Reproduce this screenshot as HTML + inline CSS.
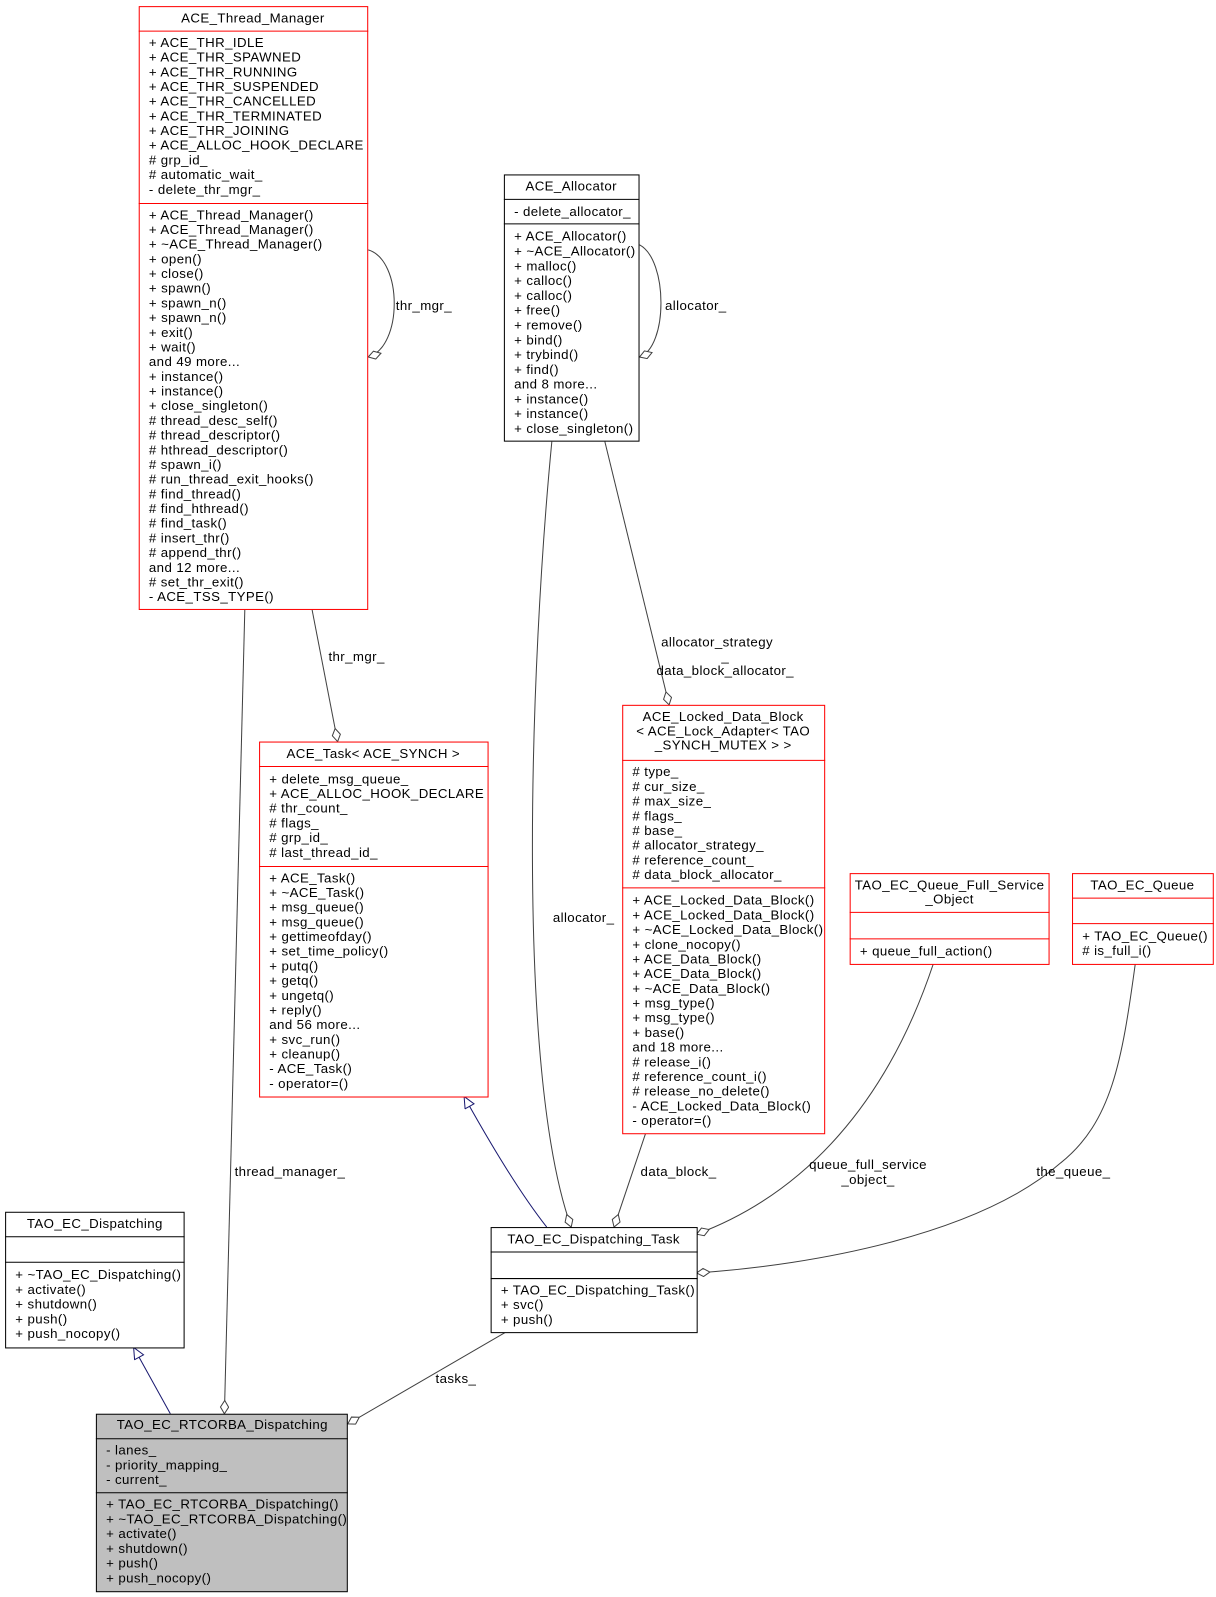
<!DOCTYPE html>
<html><head><meta charset="utf-8"><style>
html,body{margin:0;padding:0;background:#fff}
svg{display:block}
text{font-family:"Liberation Sans",Arial,sans-serif;font-size:13px;letter-spacing:0.4px;fill:#000}
</style></head><body>
<svg width="1216" height="1597" viewBox="0 0 1216 1597" xmlns="http://www.w3.org/2000/svg">
<defs>
<marker id="dia" markerUnits="userSpaceOnUse" markerWidth="16" markerHeight="10" refX="14" refY="4.5" orient="auto"><path d="M1,4.5 L7.5,0.5 L14,4.5 L7.5,8.5 Z" fill="#fff" stroke="#404040" stroke-width="1"/></marker>
<marker id="tri" markerUnits="userSpaceOnUse" markerWidth="14" markerHeight="12" refX="12" refY="5.5" orient="auto"><path d="M1,0.5 L12,5.5 L1,10.5 Z" fill="#fff" stroke="#191970" stroke-width="1"/></marker>
</defs>
<g transform="scale(1.02)">
<g fill="none" stroke-width="1">
<path d="M361,245 C395,255 395,340 361,350" stroke="#404040" marker-end="url(#dia)"/>
<path d="M627,240 C655,255 655,340 627,350" stroke="#404040" marker-end="url(#dia)"/>
<path d="M240,598 L220,1386" stroke="#404040" marker-end="url(#dia)"/>
<path d="M306,598 L331,727" stroke="#404040" marker-end="url(#dia)"/>
<path d="M541,433 C520,650 505,1050 560,1203" stroke="#404040" marker-end="url(#dia)"/>
<path d="M593,433 L656,691" stroke="#404040" marker-end="url(#dia)"/>
<path d="M633,1111 L602,1203" stroke="#404040" marker-end="url(#dia)"/>
<path d="M915,945 C870,1080 790,1170 683,1210" stroke="#404040" marker-end="url(#dia)"/>
<path d="M1113,945 C1100,1040 1090,1100 1040,1140 C960,1210 800,1240 683,1248" stroke="#404040" marker-end="url(#dia)"/>
<path d="M496,1306 L341,1396" stroke="#404040" marker-end="url(#dia)"/>
<path d="M536,1203 C510,1170 480,1120 455,1075" stroke="#191970" marker-end="url(#tri)"/>
<path d="M167,1386 L131,1321" stroke="#191970" marker-end="url(#tri)"/>
</g>
<g>
<text x="388" y="304">thr_mgr_</text>
<text x="652" y="304">allocator_</text>
<text x="230" y="1153">thread_manager_</text>
<text x="322" y="648">thr_mgr_</text>
<text x="542" y="904">allocator_</text>
<text x="703" y="634" text-anchor="middle">allocator_strategy</text>
<text x="711" y="648" text-anchor="middle">_</text>
<text x="711" y="662" text-anchor="middle">data_block_allocator_</text>
<text x="628" y="1153">data_block_</text>
<text x="851" y="1146" text-anchor="middle">queue_full_service</text>
<text x="851" y="1161" text-anchor="middle">_object_</text>
<text x="1016" y="1153">the_queue_</text>
<text x="427" y="1356">tasks_</text>
</g>

<rect x="136.5" y="6.5" width="224" height="591" fill="#fff" stroke="#ff0000"/>
<line x1="136" y1="30.5" x2="361" y2="30.5" stroke="#ff0000"/>
<line x1="136" y1="199.5" x2="361" y2="199.5" stroke="#ff0000"/>
<text x="248" y="22" text-anchor="middle">ACE_Thread_Manager</text>
<g>
<text x="146" y="46">+ ACE_THR_IDLE</text>
<text x="146" y="60.4">+ ACE_THR_SPAWNED</text>
<text x="146" y="74.8">+ ACE_THR_RUNNING</text>
<text x="146" y="89.2">+ ACE_THR_SUSPENDED</text>
<text x="146" y="103.6">+ ACE_THR_CANCELLED</text>
<text x="146" y="118">+ ACE_THR_TERMINATED</text>
<text x="146" y="132.4">+ ACE_THR_JOINING</text>
<text x="146" y="146.8">+ ACE_ALLOC_HOOK_DECLARE</text>
<text x="146" y="161.2"># grp_id_</text>
<text x="146" y="175.6"># automatic_wait_</text>
<text x="146" y="190">- delete_thr_mgr_</text>
</g>
<g>
<text x="146" y="215">+ ACE_Thread_Manager()</text>
<text x="146" y="229.4">+ ACE_Thread_Manager()</text>
<text x="146" y="243.8">+ ~ACE_Thread_Manager()</text>
<text x="146" y="258.2">+ open()</text>
<text x="146" y="272.6">+ close()</text>
<text x="146" y="287">+ spawn()</text>
<text x="146" y="301.4">+ spawn_n()</text>
<text x="146" y="315.8">+ spawn_n()</text>
<text x="146" y="330.2">+ exit()</text>
<text x="146" y="344.6">+ wait()</text>
<text x="146" y="359">and 49 more...</text>
<text x="146" y="373.4">+ instance()</text>
<text x="146" y="387.8">+ instance()</text>
<text x="146" y="402.2">+ close_singleton()</text>
<text x="146" y="416.6"># thread_desc_self()</text>
<text x="146" y="431"># thread_descriptor()</text>
<text x="146" y="445.4"># hthread_descriptor()</text>
<text x="146" y="459.8"># spawn_i()</text>
<text x="146" y="474.2"># run_thread_exit_hooks()</text>
<text x="146" y="488.6"># find_thread()</text>
<text x="146" y="503"># find_hthread()</text>
<text x="146" y="517.4"># find_task()</text>
<text x="146" y="531.8"># insert_thr()</text>
<text x="146" y="546.2"># append_thr()</text>
<text x="146" y="560.6">and 12 more...</text>
<text x="146" y="575"># set_thr_exit()</text>
<text x="146" y="589.4">- ACE_TSS_TYPE()</text>
</g>

<rect x="494.5" y="171.5" width="132" height="261" fill="#fff" stroke="#000"/>
<line x1="494" y1="195.5" x2="627" y2="195.5" stroke="#000"/>
<line x1="494" y1="219.5" x2="627" y2="219.5" stroke="#000"/>
<text x="560" y="187" text-anchor="middle">ACE_Allocator</text>
<text x="504" y="212">- delete_allocator_</text>
<g>
<text x="504" y="236">+ ACE_Allocator()</text>
<text x="504" y="250.5">+ ~ACE_Allocator()</text>
<text x="504" y="265">+ malloc()</text>
<text x="504" y="279.5">+ calloc()</text>
<text x="504" y="294">+ calloc()</text>
<text x="504" y="308.5">+ free()</text>
<text x="504" y="323">+ remove()</text>
<text x="504" y="337.5">+ bind()</text>
<text x="504" y="352">+ trybind()</text>
<text x="504" y="366.5">+ find()</text>
<text x="504" y="381">and 8 more...</text>
<text x="504" y="395.5">+ instance()</text>
<text x="504" y="410">+ instance()</text>
<text x="504" y="424.5">+ close_singleton()</text>
</g>

<rect x="610.5" y="691.5" width="198" height="420" fill="#fff" stroke="#ff0000"/>
<line x1="610" y1="745.5" x2="809" y2="745.5" stroke="#ff0000"/>
<line x1="610" y1="870.5" x2="809" y2="870.5" stroke="#ff0000"/>
<text x="709" y="707" text-anchor="middle">ACE_Locked_Data_Block</text>
<text x="709" y="721" text-anchor="middle">&lt; ACE_Lock_Adapter&lt; TAO</text>
<text x="709" y="735" text-anchor="middle">_SYNCH_MUTEX &gt; &gt;</text>
<g>
<text x="620" y="761"># type_</text>
<text x="620" y="775.4"># cur_size_</text>
<text x="620" y="789.8"># max_size_</text>
<text x="620" y="804.2"># flags_</text>
<text x="620" y="818.6"># base_</text>
<text x="620" y="833"># allocator_strategy_</text>
<text x="620" y="847.4"># reference_count_</text>
<text x="620" y="861.8"># data_block_allocator_</text>
</g>
<g>
<text x="620" y="887">+ ACE_Locked_Data_Block()</text>
<text x="620" y="901.4">+ ACE_Locked_Data_Block()</text>
<text x="620" y="915.8">+ ~ACE_Locked_Data_Block()</text>
<text x="620" y="930.2">+ clone_nocopy()</text>
<text x="620" y="944.6">+ ACE_Data_Block()</text>
<text x="620" y="959">+ ACE_Data_Block()</text>
<text x="620" y="973.4">+ ~ACE_Data_Block()</text>
<text x="620" y="987.8">+ msg_type()</text>
<text x="620" y="1002.2">+ msg_type()</text>
<text x="620" y="1016.6">+ base()</text>
<text x="620" y="1031">and 18 more...</text>
<text x="620" y="1045.4"># release_i()</text>
<text x="620" y="1059.8"># reference_count_i()</text>
<text x="620" y="1074.2"># release_no_delete()</text>
<text x="620" y="1088.6">- ACE_Locked_Data_Block()</text>
<text x="620" y="1103">- operator=()</text>
</g>

<rect x="254.5" y="727.5" width="224" height="348" fill="#fff" stroke="#ff0000"/>
<line x1="254" y1="751.5" x2="479" y2="751.5" stroke="#ff0000"/>
<line x1="254" y1="849.5" x2="479" y2="849.5" stroke="#ff0000"/>
<text x="366" y="743" text-anchor="middle">ACE_Task&lt; ACE_SYNCH &gt;</text>
<g>
<text x="264" y="768">+ delete_msg_queue_</text>
<text x="264" y="782.4">+ ACE_ALLOC_HOOK_DECLARE</text>
<text x="264" y="796.8"># thr_count_</text>
<text x="264" y="811.2"># flags_</text>
<text x="264" y="825.6"># grp_id_</text>
<text x="264" y="840"># last_thread_id_</text>
</g>
<g>
<text x="264" y="865">+ ACE_Task()</text>
<text x="264" y="879.4">+ ~ACE_Task()</text>
<text x="264" y="893.8">+ msg_queue()</text>
<text x="264" y="908.2">+ msg_queue()</text>
<text x="264" y="922.6">+ gettimeofday()</text>
<text x="264" y="937">+ set_time_policy()</text>
<text x="264" y="951.4">+ putq()</text>
<text x="264" y="965.8">+ getq()</text>
<text x="264" y="980.2">+ ungetq()</text>
<text x="264" y="994.6">+ reply()</text>
<text x="264" y="1009">and 56 more...</text>
<text x="264" y="1023.4">+ svc_run()</text>
<text x="264" y="1037.8">+ cleanup()</text>
<text x="264" y="1052.2">- ACE_Task()</text>
<text x="264" y="1066.6">- operator=()</text>
</g>

<rect x="833.5" y="856.5" width="195" height="89" fill="#fff" stroke="#ff0000"/>
<line x1="833" y1="894.5" x2="1029" y2="894.5" stroke="#ff0000"/>
<line x1="833" y1="920.5" x2="1029" y2="920.5" stroke="#ff0000"/>
<text x="931" y="872" text-anchor="middle">TAO_EC_Queue_Full_Service</text>
<text x="931" y="886" text-anchor="middle">_Object</text>
<text x="843" y="937">+ queue_full_action()</text>

<rect x="1051.5" y="856.5" width="138" height="89" fill="#fff" stroke="#ff0000"/>
<line x1="1051" y1="880.5" x2="1190" y2="880.5" stroke="#ff0000"/>
<line x1="1051" y1="905.5" x2="1190" y2="905.5" stroke="#ff0000"/>
<text x="1120" y="872" text-anchor="middle">TAO_EC_Queue</text>
<text x="1061" y="922">+ TAO_EC_Queue()</text>
<text x="1061" y="936.5"># is_full_i()</text>

<rect x="5.5" y="1188.5" width="175" height="133" fill="#fff" stroke="#000"/>
<line x1="5" y1="1212.5" x2="181" y2="1212.5" stroke="#000"/>
<line x1="5" y1="1237.5" x2="181" y2="1237.5" stroke="#000"/>
<text x="93" y="1204" text-anchor="middle">TAO_EC_Dispatching</text>
<text x="15" y="1254">+ ~TAO_EC_Dispatching()</text>
<text x="15" y="1268.5">+ activate()</text>
<text x="15" y="1283">+ shutdown()</text>
<text x="15" y="1297.5">+ push()</text>
<text x="15" y="1312">+ push_nocopy()</text>

<rect x="481.5" y="1203.5" width="202" height="103" fill="#fff" stroke="#000"/>
<line x1="481" y1="1227.5" x2="684" y2="1227.5" stroke="#000"/>
<line x1="481" y1="1253.5" x2="684" y2="1253.5" stroke="#000"/>
<text x="582" y="1219" text-anchor="middle">TAO_EC_Dispatching_Task</text>
<text x="491" y="1269">+ TAO_EC_Dispatching_Task()</text>
<text x="491" y="1283.5">+ svc()</text>
<text x="491" y="1298">+ push()</text>

<rect x="94.5" y="1386.5" width="246" height="174" fill="#bfbfbf" stroke="#000"/>
<line x1="94" y1="1410.5" x2="341" y2="1410.5" stroke="#000"/>
<line x1="94" y1="1463.5" x2="341" y2="1463.5" stroke="#000"/>
<text x="218" y="1401" text-anchor="middle">TAO_EC_RTCORBA_Dispatching</text>
<text x="104" y="1426">- lanes_</text>
<text x="104" y="1440.5">- priority_mapping_</text>
<text x="104" y="1455">- current_</text>
<text x="104" y="1479">+ TAO_EC_RTCORBA_Dispatching()</text>
<text x="104" y="1493.5">+ ~TAO_EC_RTCORBA_Dispatching()</text>
<text x="104" y="1508">+ activate()</text>
<text x="104" y="1522.5">+ shutdown()</text>
<text x="104" y="1537">+ push()</text>
<text x="104" y="1551.5">+ push_nocopy()</text>
</g>
</svg>
</body></html>
